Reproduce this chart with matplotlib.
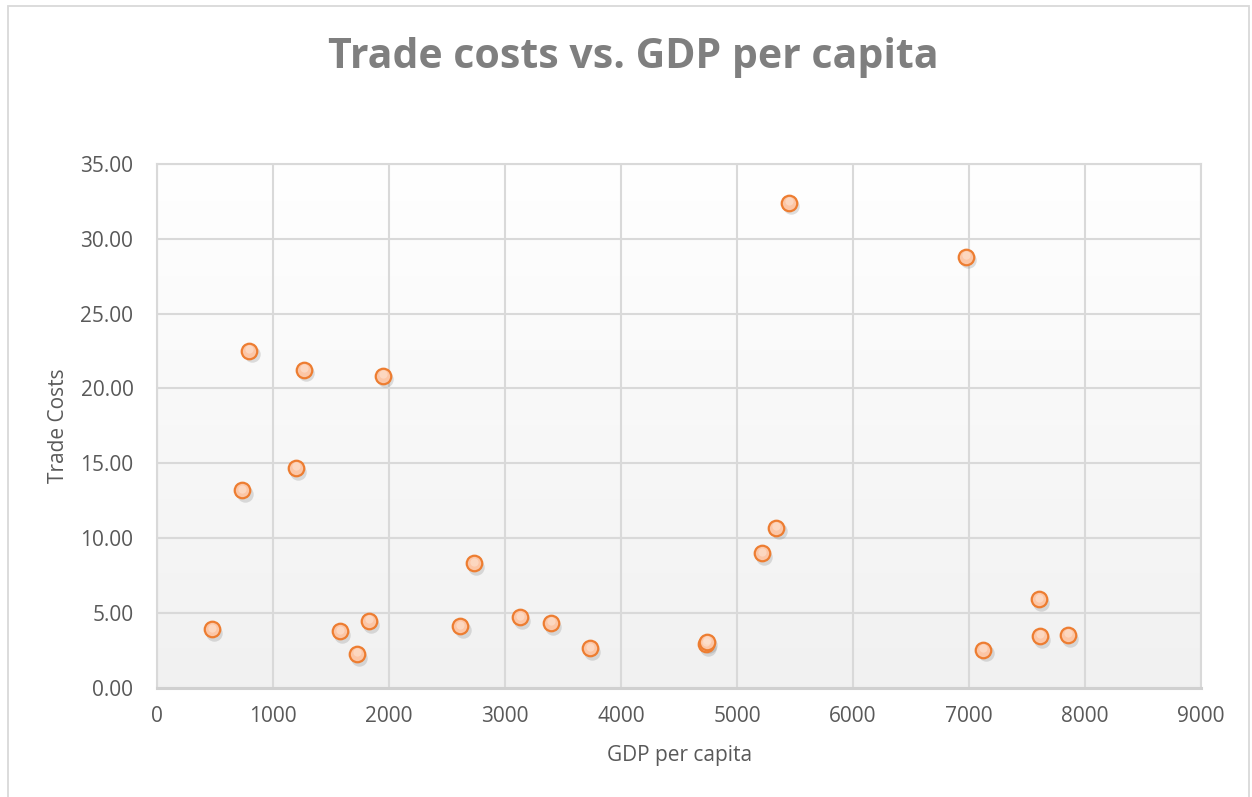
import numpy as np
import matplotlib
matplotlib.use("Agg")
import matplotlib.pyplot as plt
import matplotlib.patches as mpatches
import matplotlib.transforms as mtransforms

# values
gdp_per_capita = [473, 737, 797, 1201, 1270, 1579, 1725, 1828, 1950, 2616,
                  2731, 3126, 3393, 3731, 4730, 4739, 5219, 5340, 5444,
                  6977, 7125, 7600, 7612, 7854]
trade_costs = [3.88, 13.19, 22.50, 14.67, 21.23, 3.75, 2.23, 4.44, 20.83, 4.08,
               8.30, 4.69, 4.31, 2.61, 2.90, 3.05, 8.97, 10.67, 32.41,
               28.79, 2.54, 5.89, 3.44, 3.50]
x_ticks = list(range(0, 9001, 1000))
y_ticks = [0, 5, 10, 15, 20, 25, 30, 35]

plt.rcParams['font.family'] = ['Open Sans', 'DejaVu Sans']
text_gray = '#595959'
grid_gray = '#d9d9d9'
W, H = 1252, 797

fig = plt.figure(figsize=(W / 100, H / 100), dpi=100)
ax = fig.add_axes([157 / W, 1 - 687.5 / H, (1201 - 157) / W, (687.5 - 164) / H])

# outer chart border
fig.patches.append(mpatches.Rectangle((8 / W, -0.01), 1241 / W, 1 - 6 / H + 0.01,
                                      transform=fig.transFigure, fill=False,
                                      edgecolor='#d9d9d9', linewidth=1.3))

# plot-area gradient, white at top to light gray at bottom
grad = np.linspace(1.0, 0.0, 256).reshape(-1, 1, 1)
top = np.array([1.0, 1.0, 1.0])
bottom = np.array([0.945, 0.945, 0.945])
img = bottom + (top - bottom) * grad
ax.imshow(img, extent=[0, 1, 0, 1], transform=ax.transAxes, aspect='auto', zorder=0)

ax.set_xlim(0, 9000)
ax.set_ylim(0, 35)
ax.set_xticks(x_ticks)
ax.set_yticks(y_ticks)
ax.set_yticklabels([f'{v:.2f}' for v in y_ticks])
ax.grid(True, color=grid_gray, linewidth=1.5, zorder=1)
for side, sp in ax.spines.items():
    sp.set_color(grid_gray)
    sp.set_linewidth(1.5)
ax.spines['bottom'].set_linewidth(2.2)
ax.spines['bottom'].set_color('#d0d0d0')
ax.tick_params(length=0, labelsize=15, colors=text_gray)
ax.tick_params(axis='x', pad=13)
ax.tick_params(axis='y', pad=17)

# marker shadow, then markers
shadow = mtransforms.offset_copy(ax.transData, fig=fig, x=1.5, y=-2.5, units='points')
ax.scatter(gdp_per_capita, trade_costs, s=140, color='#7f7f7f', alpha=0.25,
           linewidths=0, transform=shadow, zorder=2)
ax.scatter(gdp_per_capita, trade_costs, s=125, color='#fcc6a6',
           edgecolors='#ed7d31', linewidths=1.6, zorder=3)
ax.scatter(gdp_per_capita, trade_costs, s=35, color='#fde3d3', alpha=0.6,
           linewidths=0, zorder=4,
           transform=mtransforms.offset_copy(ax.transData, fig=fig, x=0, y=1.2, units='points'))

fig.text(680 / W, 1 - 756 / H, 'GDP per capita', ha='center', va='center',
         fontsize=15, color=text_gray)
fig.text(58 / W, 1 - 426 / H, 'Trade Costs', ha='center', va='center', rotation=90,
         fontsize=15, color=text_gray)
fig.text(633 / W, 1 - 57 / H, 'Trade costs vs. GDP per capita', ha='center', va='center',
         fontsize=29.5, fontweight='bold', color='#7f7f7f')

fig.savefig('out.png', dpi=100)
